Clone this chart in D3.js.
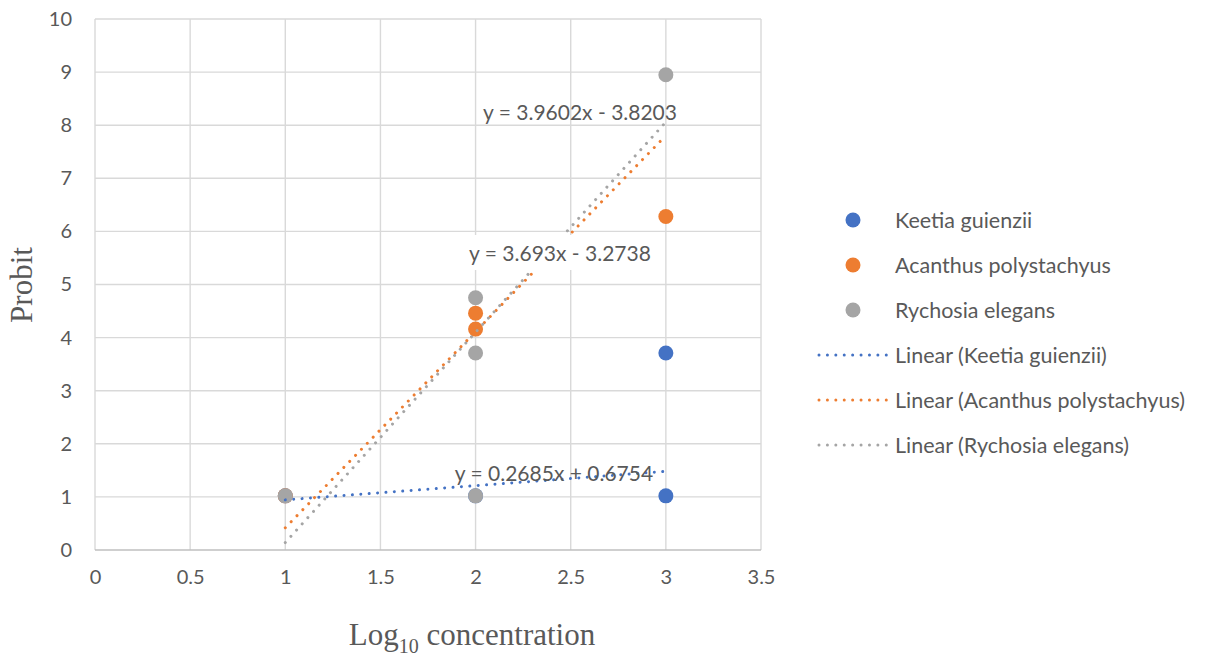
<!DOCTYPE html>
<html>
<head>
<meta charset="utf-8">
<script src="https://cdn.jsdelivr.net/npm/d3@7"></script>
<style>
  body { margin: 0; background: #fff; }
  svg { display: block; }
  .tick-label { font-family: Lato, 'Open Sans', sans-serif; font-size: 20px; fill: #595959; }
  .legend-label { font-family: Lato, 'Open Sans', sans-serif; font-size: 21.5px; fill: #595959; }
  .eq-label { font-family: Lato, 'Open Sans', sans-serif; font-size: 21px; fill: #595959; }
  .axis-title { font-family: 'Liberation Serif', 'Times New Roman', serif; font-size: 31px; fill: #595959; }
</style>
</head>
<body>
<svg id="chart" width="1214" height="656"></svg>
<script>
// Data
const seriesNames = ['Keetia guienzii', 'Acanthus polystachyus', 'Rychosia elegans'];
const seriesColors = ['#4472C4', '#ED7D31', '#A5A5A5'];

const keetiaPoints = [[1, 1.02], [2, 1.02], [3, 1.02], [3, 3.71]];
const acanthusPoints = [[1, 1.02], [2, 4.16], [2, 4.46], [3, 6.28]];
const rychosiaPoints = [[1, 1.02], [2, 1.02], [2, 3.71], [2, 4.75], [3, 8.95]];

// trend line coefficients, as printed on the chart
const trendSlopes = [0.2685, 3.693, 3.9602];
const trendIntercepts = [0.6754, -3.2738, -3.8203];
const trendRange = [1, 3];
const trendLabels = ['y = 0.2685x + 0.6754', 'y = 3.693x - 3.2738', 'y = 3.9602x - 3.8203'];

const xTicks = [0, 0.5, 1, 1.5, 2, 2.5, 3, 3.5];
const yTicks = [0, 1, 2, 3, 4, 5, 6, 7, 8, 9, 10];

const allPoints = [keetiaPoints, acanthusPoints, rychosiaPoints];

const svg = d3.select('#chart');

const plot = {left: 95, right: 761, top: 19, bottom: 550};

const xScale = d3.scaleLinear().domain([0, 3.5]).range([plot.left, plot.right]);
const yScale = d3.scaleLinear().domain([0, 10]).range([plot.bottom, plot.top]);

// Gridlines
const grid = svg.append('g');
grid.selectAll('line.v')
    .data(xTicks)
    .enter().append('line')
    .attr('x1', d => xScale(d)).attr('x2', d => xScale(d))
    .attr('y1', plot.top).attr('y2', plot.bottom)
    .attr('stroke', '#d9d9d9').attr('stroke-width', 1.4);
grid.selectAll('line.h')
    .data(yTicks)
    .enter().append('line')
    .attr('x1', plot.left).attr('x2', plot.right)
    .attr('y1', d => yScale(d)).attr('y2', d => yScale(d))
    .attr('stroke', d => d === 0 ? '#bfbfbf' : '#d9d9d9').attr('stroke-width', 1.4);

// Axes (labels only, Excel style)
const xAxis = d3.axisBottom(xScale).tickValues(xTicks).tickSize(0).tickPadding(20).tickFormat(d3.format('~g'));
const yAxis = d3.axisLeft(yScale).tickValues(yTicks).tickSize(0).tickPadding(23).tickFormat(d3.format('~g'));

svg.append('g')
    .attr('transform', `translate(0,${plot.bottom})`)
    .call(xAxis)
    .call(g => g.select('.domain').remove())
    .selectAll('text').attr('class', 'tick-label').attr('font-family', null).attr('font-size', null).attr('fill', null);

svg.append('g')
    .attr('transform', `translate(${plot.left},0)`)
    .call(yAxis)
    .call(g => g.select('.domain').remove())
    .selectAll('text').attr('class', 'tick-label').attr('font-family', null).attr('font-size', null).attr('fill', null);

// Axis titles
svg.append('text')
    .attr('class', 'axis-title')
    .attr('transform', 'translate(32,285) rotate(-90)')
    .attr('text-anchor', 'middle')
    .text('Probit');

const xTitle = svg.append('text')
    .attr('class', 'axis-title')
    .attr('x', 472)
    .attr('y', 645)
    .attr('text-anchor', 'middle');
xTitle.append('tspan').text('Log');
xTitle.append('tspan').attr('font-size', '20px').attr('dy', 8).text('10');
xTitle.append('tspan').attr('dy', -8).text(' concentration');

// Markers
allPoints.forEach((pts, i) => {
    svg.append('g').selectAll('circle')
        .data(pts)
        .enter().append('circle')
        .attr('cx', d => xScale(d[0]))
        .attr('cy', d => yScale(d[1]))
        .attr('r', 7.5)
        .attr('fill', seriesColors[i]);
});

// Trend lines
const line = d3.line().x(d => xScale(d[0])).y(d => yScale(d[1]));
trendSlopes.forEach((m, i) => {
    const ends = trendRange.map(x => [x, m * x + trendIntercepts[i]]);
    svg.append('path')
        .attr('d', line(ends))
        .attr('fill', 'none')
        .attr('stroke', seriesColors[i])
        .attr('stroke-width', 3)
        .attr('stroke-linecap', 'round')
        .attr('stroke-dasharray', '0.01 8.4');
});

// Equation labels
const eqPos = [
    {x: 554, y: 481, box: false},
    {x: 560, y: 261, box: true},
    {x: 580, y: 120, box: false}
];
trendLabels.forEach((t, i) => {
    const p = eqPos[i];
    const g = svg.append('g');
    const txt = g.append('text')
        .attr('class', 'eq-label')
        .attr('x', p.x).attr('y', p.y)
        .attr('text-anchor', 'middle')
        .text(t);
    if (p.box) {
        const bb = txt.node().getBBox();
        g.insert('rect', 'text')
            .attr('x', bb.x - 6).attr('y', bb.y - 5)
            .attr('width', bb.width + 12).attr('height', bb.height + 10)
            .attr('fill', '#fff');
    }
});

// Legend
const legend = svg.append('g').attr('transform', 'translate(818,220)');
seriesNames.forEach((name, i) => {
    const row = legend.append('g').attr('transform', `translate(0,${i * 45})`);
    row.append('circle').attr('cx', 35).attr('cy', 0).attr('r', 7.5).attr('fill', seriesColors[i]);
    row.append('text').attr('class', 'legend-label').attr('x', 77).attr('y', 7.5).text(name);
});
seriesNames.forEach((name, i) => {
    const row = legend.append('g').attr('transform', `translate(0,${(i + 3) * 45})`);
    row.append('line')
        .attr('x1', 1).attr('x2', 69).attr('y1', 0).attr('y2', 0)
        .attr('stroke', seriesColors[i]).attr('stroke-width', 3)
        .attr('stroke-linecap', 'round').attr('stroke-dasharray', '0.01 8.4');
    row.append('text').attr('class', 'legend-label').attr('x', 77).attr('y', 7.5).text('Linear (' + name + ')');
});
</script>
</body>
</html>
